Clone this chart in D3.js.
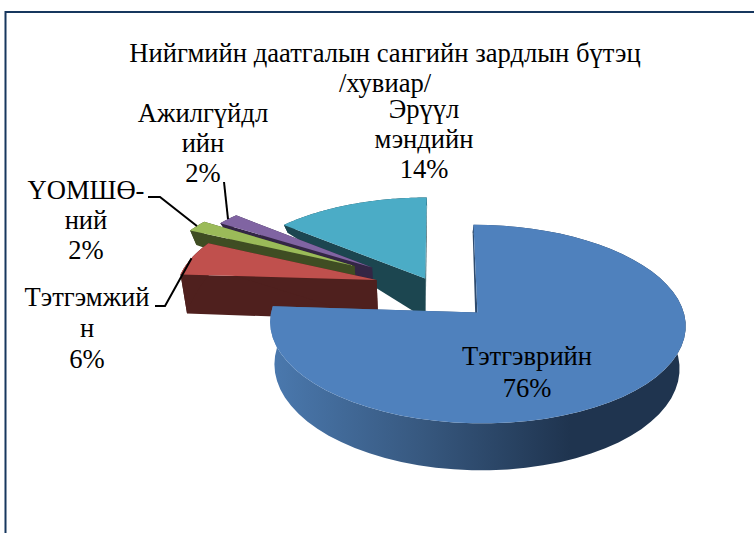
<!DOCTYPE html>
<html>
<head>
<meta charset="utf-8">
<script src="https://cdn.jsdelivr.net/npm/d3@7"></script>
<style>
  html, body { margin: 0; padding: 0; background: #fff; overflow: hidden; }
  text { font-family: "Liberation Serif", "Times New Roman", serif; fill: #000; }
</style>
</head>
<body>
<div id="chart"></div>
<script>
// Chart data
var title_lines = [ 'Нийгмийн даатгалын сангийн зардлын бүтэц', '/хувиар/' ];
var categories = [ 'Тэтгэврийн', 'Тэтгэмжийн', 'ҮОМШӨ-ний', 'Ажилгүйдлийн', 'Эрүүл мэндийн' ];
var category_lines = [
  [ 'Тэтгэврийн' ],
  [ 'Тэтгэмжий', 'н' ],
  [ 'ҮОМШӨ-', 'ний' ],
  [ 'Ажилгүйдл', 'ийн' ],
  [ 'Эрүүл', 'мэндийн' ]
];
var shares = [ 76, 6, 2, 2, 14 ];

// Exploded distance of each slice, as a fraction of the radius.
var explode = [ 0.265, 0.33, 0.5, 0.43, 0.175 ];
// Extra push towards the back of the picture, same units.
var back_drift = [ 0.012, 0.08, 0.08, 0.05, 0.02 ];

// Look of each slice.
var top_colors = [ '#4f81bd', '#c0504d', '#9bbb59', '#8064a2', '#4bacc6' ];
var wall_colors = [ 'url(#blue_wall)', '#4f201e', '#3f4d23', '#332645', '#1c4650' ];
var draw_order = [ 4, 3, 2, 1, 0 ];

// Label placement: centre x, first baseline, line spacing.
var label_places = [
  { x: 527, y: 365, dy: 32 },
  { x: 87, y: 306, dy: 31 },
  { x: 86, y: 199, dy: 30 },
  { x: 203, y: 122, dy: 30 },
  { x: 424, y: 118, dy: 30 }
];
// Where a leader leaves its label; only small outside slices have one.
var leader_starts = [ null, [ [155, 306], [165, 306] ], [ [148, 197], [160, 197] ], [ [224, 182] ], null ];

var width = 754, height = 533;
var radius = 202, center_x = 440, center_y = 295;
var tilt = 0.465, perspective = 0.115, bottom_shrink = 0.975;
var font_size = 26.6;

// Height of the side wall depends on how far back the point lies.
var wall_drop = d3.scaleLinear().domain( [-165, -130, -40, 243] ).range( [8, 24, 40, 47] ).clamp( true );

var svg = d3.select( '#chart' ).append( 'svg' )
  .attr( 'width', width )
  .attr( 'height', height );

var gradient = svg.append( 'defs' ).append( 'linearGradient' )
  .attr( 'id', 'blue_wall' )
  .attr( 'gradientUnits', 'userSpaceOnUse' )
  .attr( 'x1', 275 ).attr( 'x2', 570 ).attr( 'y1', 0 ).attr( 'y2', 0 );
gradient.append( 'stop' ).attr( 'offset', 0 ).attr( 'stop-color', '#4a78ad' );
gradient.append( 'stop' ).attr( 'offset', 0.5 ).attr( 'stop-color', '#37587f' );
gradient.append( 'stop' ).attr( 'offset', 1 ).attr( 'stop-color', '#1f344f' );

// Outer frame, runs off the page at right and bottom.
svg.append( 'rect' )
  .attr( 'x', 5.5 ).attr( 'y', 12 )
  .attr( 'width', width + 20 ).attr( 'height', height + 20 )
  .attr( 'fill', 'none' )
  .attr( 'stroke', '#17375e' )
  .attr( 'stroke-width', 2 );

svg.selectAll( 'text.title' )
  .data( title_lines )
  .enter().append( 'text' )
    .attr( 'class', 'title' )
    .attr( 'x', 385 )
    .attr( 'y', function( d, i ){ return 62 + i * 30 } )
    .attr( 'text-anchor', 'middle' )
    .attr( 'font-size', font_size )
    .text( function( d ){ return d } );

var slices = d3.pie().sort( null ).startAngle( 0 ).endAngle( 2 * Math.PI )( shares );

// Project a point on the top of the disc to the screen.
function project( px, pz ){
  var s = 1 / ( 1 - perspective * pz / radius );
  return { x: center_x + px * s, y: center_y + pz * tilt * s, pz: pz };
}

// The same point, on the bottom of the disc.
function project_bottom( px, pz ){
  var p = project( px, pz );
  return { x: center_x + ( p.x - center_x ) * bottom_shrink, y: p.y + wall_drop( pz ) };
}

function slice_geometry( slice, i ){
  var mid = ( slice.startAngle + slice.endAngle ) / 2;
  var off_x = Math.sin( mid ) * explode[i] * radius;
  var off_z = ( -Math.cos( mid ) * explode[i] - back_drift[i] ) * radius;
  var angles = d3.range( 0, 61 ).map( function( k ){
    return slice.startAngle + ( slice.endAngle - slice.startAngle ) * k / 60;
  } );
  function rim( fn ){
    return angles.map( function( a ){
      return fn( off_x + radius * Math.sin( a ), off_z - radius * Math.cos( a ) );
    } );
  }
  return {
    top_rim: rim( project ),
    bottom_rim: rim( project_bottom ),
    top_vertex: project( off_x, off_z ),
    bottom_vertex: project_bottom( off_x, off_z ),
    mid_rim: project( off_x + radius * Math.sin( mid ), off_z - radius * Math.cos( mid ) )
  };
}

var outline = d3.line().x( function( d ){ return d.x } ).y( function( d ){ return d.y } );
var geometry = slices.map( slice_geometry );

draw_order.forEach( function( i ){
  var g = geometry[i];
  var group = svg.append( 'g' ).attr( 'class', 'slice' );
  var n = g.top_rim.length - 1;
  var first_face = [ g.top_vertex, g.top_rim[0], g.bottom_rim[0], g.bottom_vertex ];
  var last_face = [ g.top_vertex, g.top_rim[n], g.bottom_rim[n], g.bottom_vertex ];
  var wall = g.top_rim.concat( g.bottom_rim.slice().reverse() );

  [ first_face, last_face, wall ].forEach( function( points ){
    group.append( 'path' )
      .attr( 'd', outline( points ) + 'Z' )
      .attr( 'fill', wall_colors[i] );
  } );

  group.append( 'path' )
    .attr( 'd', outline( [ g.top_vertex ].concat( g.top_rim ) ) + 'Z' )
    .attr( 'fill', top_colors[i] );
} );

// Leader lines
leader_starts.forEach( function( start, i ){
  if( !start ) return;
  svg.append( 'path' )
    .attr( 'd', outline( start.map( function( p ){ return { x: p[0], y: p[1] } } ).concat( [ geometry[i].mid_rim ] ) ) )
    .attr( 'fill', 'none' )
    .attr( 'stroke', '#000' )
    .attr( 'stroke-width', 2 );
} );

// Data labels
category_lines.forEach( function( lines, i ){
  var place = label_places[i];
  var rows = lines.concat( [ d3.format( '.0f' )( shares[i] ) + '%' ] );
  svg.append( 'g' ).attr( 'class', 'label' ).attr( 'data-category', categories[i] )
    .selectAll( 'text' )
    .data( rows )
    .enter().append( 'text' )
      .attr( 'x', place.x )
      .attr( 'y', function( d, k ){ return place.y + k * place.dy } )
      .attr( 'text-anchor', 'middle' )
      .attr( 'font-size', font_size )
      .text( function( d ){ return d } );
} );
</script>
</body>
</html>
